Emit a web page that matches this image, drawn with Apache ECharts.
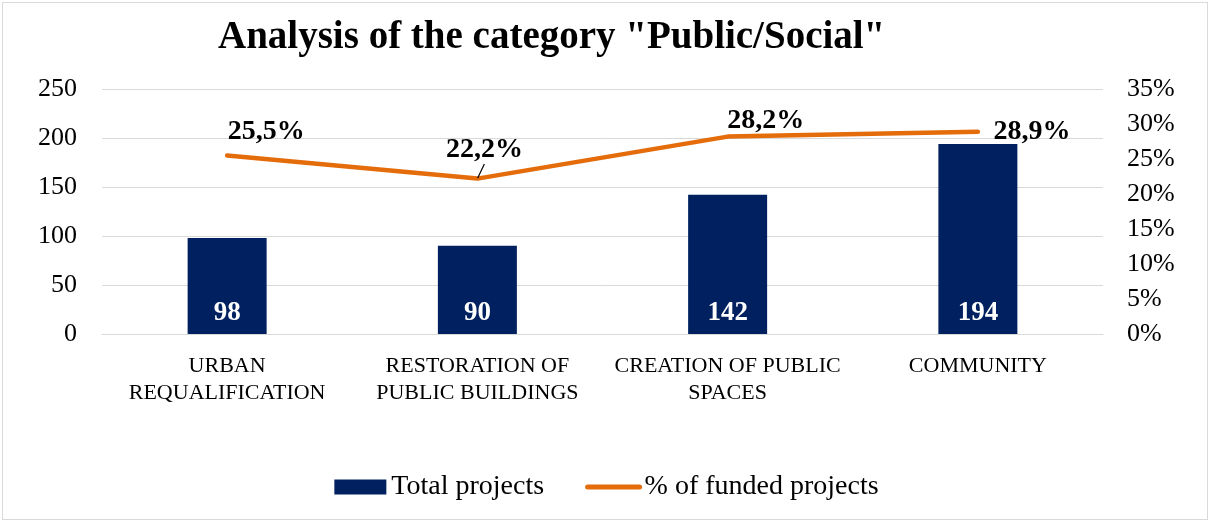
<!DOCTYPE html>
<html>
<head>
<meta charset="utf-8">
<script src="https://cdn.jsdelivr.net/npm/echarts@6/dist/echarts.min.js"></script>
<style>
  html, body { margin: 0; padding: 0; background: #ffffff; }
  #frame { position: absolute; left: 2px; top: 2px; width: 1206px; height: 518px; border: 1px solid #d9d9d9; box-sizing: border-box; }
  #chart { position: absolute; left: 0; top: 0; width: 1213px; height: 521px; }
</style>
</head>
<body>
<div id="frame"></div>
<div id="chart"></div>
<script>
// Project categories and their figures
const categories = ['URBAN\nREQUALIFICATION', 'RESTORATION OF\nPUBLIC BUILDINGS', 'CREATION OF PUBLIC\nSPACES', 'COMMUNITY'];
const totalProjects = [98, 90, 142, 194];
const fundedShare = [25.5, 22.2, 28.2, 28.9];

const SERIF = '"Liberation Serif", "DejaVu Serif", serif';
const NAVY = '#002060';
const ORANGE = '#E46C0A';

// Top-left corner of each percentage label, relative to its point
const pctLabelPos = [
  { position: [1, -37] },
  { position: [-31, -42], leader: true },
  { position: [0, -29] },
  { position: [16, -13] }
];

const chart = echarts.init(document.getElementById('chart'), null, { renderer: 'canvas' });

chart.setOption({
  animation: false,
  title: {
    text: 'Analysis of the category "Public/Social"',
    left: 213,
    top: 13,
    textStyle: { fontFamily: SERIF, fontSize: 39, fontWeight: 'bold', color: '#000' }
  },
  legend: {
    top: 468,
    left: 'center',
    itemWidth: 52,
    itemHeight: 15,
    itemGap: 41,
    textStyle: { fontFamily: SERIF, fontSize: 28, color: '#000' },
    data: [
      { name: 'Total projects', icon: 'rect' },
      {
        name: '% of funded projects',
        itemStyle: { color: 'rgba(0,0,0,0)', borderWidth: 0 },
        lineStyle: { color: ORANGE, width: 5, cap: 'round' }
      }
    ]
  },
  grid: { left: 102, right: 110, top: 89, bottom: 187, containLabel: false },
  xAxis: {
    type: 'category',
    data: categories,
    axisLine: { lineStyle: { color: '#d9d9d9', width: 1 } },
    axisTick: { show: false },
    axisLabel: {
      fontFamily: SERIF, fontSize: 22, color: '#000', lineHeight: 27, margin: 19, interval: 0
    }
  },
  yAxis: [
    {
      type: 'value', min: 0, max: 250, interval: 50,
      axisLine: { show: false }, axisTick: { show: false },
      splitLine: { lineStyle: { color: '#d9d9d9', width: 1 } },
      axisLabel: { fontFamily: SERIF, fontSize: 26, color: '#000', margin: 25 }
    },
    {
      type: 'value', min: 0, max: 35, interval: 5,
      axisLine: { show: false }, axisTick: { show: false },
      splitLine: { show: false },
      axisLabel: { fontFamily: SERIF, fontSize: 26, color: '#000', margin: 24, formatter: '{value}%' }
    }
  ],
  series: [
    {
      name: 'Total projects',
      type: 'bar',
      data: totalProjects,
      barWidth: 79,
      itemStyle: { color: NAVY },
      label: {
        show: true, position: 'insideBottom', distance: 7,
        fontFamily: SERIF, fontSize: 27, fontWeight: 'bold', color: '#fff'
      }
    },
    {
      name: '% of funded projects',
      type: 'line',
      yAxisIndex: 1,
      data: fundedShare.map((v, i) => ({
        value: v,
        label: { position: pctLabelPos[i].position },
        labelLine: { show: !!pctLabelPos[i].leader, lineStyle: { color: '#000', width: 1.2 } }
      })),
      symbol: 'circle',
      symbolSize: 1,
      showSymbol: true,
      lineStyle: { color: ORANGE, width: 4.5, cap: 'round', join: 'round' },
      itemStyle: { color: ORANGE },
      label: {
        show: true,
        fontFamily: SERIF, fontSize: 28, fontWeight: 'bold', color: '#000',
        formatter: p => p.value.toFixed(1).replace('.', ',') + '%'
      }
    }
  ]
});
</script>
</body>
</html>
